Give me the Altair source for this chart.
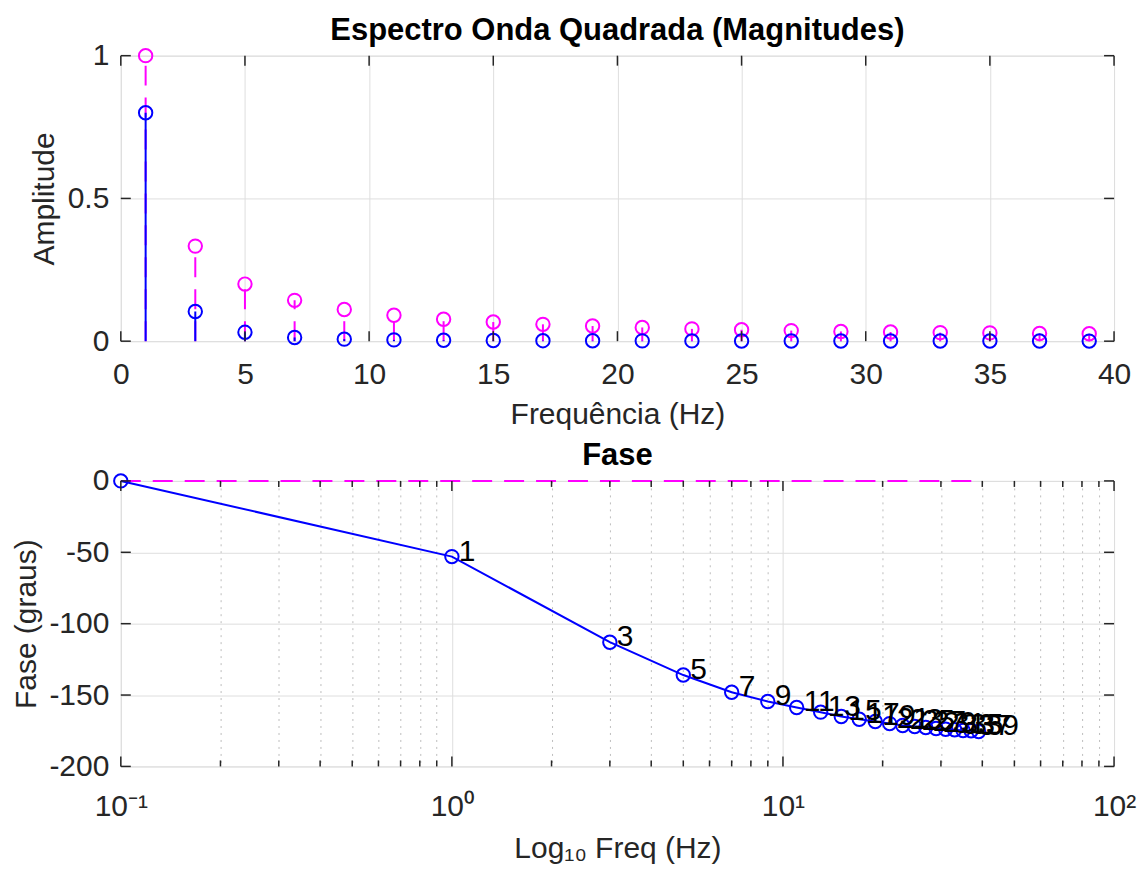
import altair as alt
import pandas as pd

# ---------------- data ----------------
harmonics = [1, 3, 5, 7, 9, 11, 13, 15, 17, 19, 21, 23, 25, 27, 29, 31, 33, 35, 37, 39]
mag_input = [1.0, 0.333, 0.2, 0.143, 0.111, 0.091, 0.077, 0.067, 0.059, 0.053,
             0.048, 0.043, 0.04, 0.037, 0.034, 0.032, 0.03, 0.029, 0.027, 0.026]
mag_output = [0.8, 0.104, 0.031, 0.013, 0.007, 0.0045, 0.003, 0.0022, 0.0017, 0.0013,
              0.0011, 0.0009, 0.0008, 0.0007, 0.0006, 0.0005, 0.0005, 0.0004, 0.0004, 0.0003]
mag_base = [0.0] * len(harmonics)

phase_freq = [0.1, 1, 3, 5, 7, 9, 11, 13, 15, 17, 19, 21, 23, 25, 27, 29, 31, 33, 35, 37, 39]
phase_output = [0, -53, -113, -136, -148, -154.5, -158.7, -162, -165, -167, -168.5,
                -170, -171.3, -172, -172.7, -173.4, -174, -174.3, -174.8, -175, -175.5]
phase_input = [0, 0, 0, 0, 0, 0, 0, 0, 0, 0, 0, 0, 0, 0, 0, 0, 0, 0, 0, 0, 0]
phase_labels = [""] + [str(n) for n in harmonics]

top_x_ticks = [0, 5, 10, 15, 20, 25, 30, 35, 40]
top_y_ticks = [0, 0.5, 1]
log_decades = [0.1, 1, 10, 100]
log_minor = [0.2, 0.3, 0.4, 0.5, 0.6, 0.7, 0.8, 0.9,
             2, 3, 4, 5, 6, 7, 8, 9,
             20, 30, 40, 50, 60, 70, 80, 90]
bot_y_ticks = [-200, -150, -100, -50, 0]

# ---------------- style ----------------
W, H = 995, 286
FONT = "Liberation Sans"
BLUE = "#0000ff"
MAG = "#ff00ff"
FRAME = "#262626"
GRID = "#dedede"
MINOR = "#bdbdbd"
LBL = 30
TTL = 30
MS = 180
TICK = 10

mag_df = pd.DataFrame({"f": harmonics, "inp": mag_input, "out": mag_output, "base": mag_base})
ph_df = pd.DataFrame({"f": phase_freq, "out": phase_output, "inp": phase_input, "lab": phase_labels})
lab_df = ph_df[ph_df["lab"] != ""]

common_axis = dict(domain=False, ticks=False, grid=True, gridWidth=1,
                   labelFont=FONT, labelFontSize=LBL, labelColor=FRAME,
                   titleFont=FONT, titleFontSize=TTL, titleFontWeight="normal",
                   titleColor=FRAME, labelFlush=False, labelOverlap=False)

# ---------- top panel ----------
xs_top = alt.Scale(domain=[0, 40], nice=False, zero=False)
ax_top = alt.Axis(values=top_x_ticks, gridColor=GRID, labelPadding=18, titlePadding=10, **common_axis)
ys_top = alt.Scale(domain=[0, 1], nice=False)
ay_top = alt.Axis(values=top_y_ticks, labelExpr="toString(datum.value)", gridColor=GRID,
                  labelPadding=12, titlePadding=8, **common_axis)


def xt(field):
    return alt.X(f"{field}:Q", scale=xs_top, axis=ax_top, title="Frequência (Hz)")


def yt(field):
    return alt.Y(f"{field}:Q", scale=ys_top, axis=ay_top, title="Amplitude")


base_top = alt.Chart(mag_df)
stem_in = base_top.mark_rule(color=MAG, strokeWidth=2, strokeDash=[20, 12]).encode(
    x=xt("f"), y=yt("base"), y2=alt.Y2("inp"))
stem_out = base_top.mark_rule(color=BLUE, strokeWidth=2).encode(
    x=xt("f"), y=yt("base"), y2=alt.Y2("out"))
pt_in = base_top.mark_point(shape="circle", filled=False, size=MS, strokeWidth=2, color=MAG, opacity=1).encode(
    x=xt("f"), y=yt("inp"))
pt_out = base_top.mark_point(shape="circle", filled=False, size=MS, strokeWidth=2, color=BLUE, opacity=1).encode(
    x=xt("f"), y=yt("out"))

txd = alt.Chart(pd.DataFrame({"t": top_x_ticks}))
tyd = alt.Chart(pd.DataFrame({"t": top_y_ticks}))
tk = dict(color=FRAME, strokeWidth=1.5)
top_ticks = [
    txd.mark_rule(**tk).encode(x=xt("t"), y=alt.value(0), y2=alt.value(TICK)),
    txd.mark_rule(**tk).encode(x=xt("t"), y=alt.value(H), y2=alt.value(H - TICK)),
    tyd.mark_rule(**tk).encode(y=yt("t"), x=alt.value(0), x2=alt.value(TICK)),
    tyd.mark_rule(**tk).encode(y=yt("t"), x=alt.value(W), x2=alt.value(W - TICK)),
]

top = alt.layer(stem_in, stem_out, pt_in, pt_out, *top_ticks).properties(
    width=W, height=H,
    title=alt.TitleParams("Espectro Onda Quadrada (Magnitudes)", font=FONT, fontSize=31,
                          fontWeight="bold", color="black", offset=-6, anchor="middle", frame="group"))

# ---------- bottom panel ----------
xs_bot = alt.Scale(type="log", domain=[0.1, 100], nice=False)
label_expr = ("datum.value == 0.1 ? '10\u207b\u00b9' : datum.value == 1 ? '10\u2070' : "
              "datum.value == 10 ? '10\u00b9' : datum.value == 100 ? '10\u00b2' : ''")
major_test = "indexof([0.1, 1, 10, 100], datum.value) < 0"
ax_bot = alt.Axis(values=sorted(log_decades + log_minor), labelExpr=label_expr,
                  gridDash={"condition": {"test": major_test, "value": [2, 5]}, "value": []},
                  gridColor={"condition": {"test": major_test, "value": MINOR}, "value": GRID},
                  labelPadding=25, titlePadding=12, **common_axis)
ys_bot = alt.Scale(domain=[-200, 0], nice=False)
ay_bot = alt.Axis(values=bot_y_ticks, labelExpr="toString(datum.value)", gridColor=GRID,
                  labelPadding=12, titlePadding=7, **common_axis)


def xb(field):
    return alt.X(f"{field}:Q", scale=xs_bot, axis=ax_bot, title="Log\u2081\u2080 Freq (Hz)")


def yb(field):
    return alt.Y(f"{field}:Q", scale=ys_bot, axis=ay_bot, title="Fase (graus)")


base_bot = alt.Chart(ph_df)
line_in = base_bot.mark_line(color=MAG, strokeWidth=2, strokeDash=[20, 12]).encode(x=xb("f"), y=yb("inp"))
line_out = base_bot.mark_line(color=BLUE, strokeWidth=2).encode(x=xb("f"), y=yb("out"))
pts_out = base_bot.mark_point(shape="circle", filled=False, size=MS, strokeWidth=2, color=BLUE, opacity=1).encode(
    x=xb("f"), y=yb("out"))
labels = alt.Chart(lab_df).mark_text(align="left", baseline="middle", dx=7, dy=-5,
                                     font=FONT, fontSize=30, color="black").encode(
    x=xb("f"), y=yb("out"), text="lab:N")

bmaj = alt.Chart(pd.DataFrame({"t": log_decades}))
bmin = alt.Chart(pd.DataFrame({"t": log_minor}))
byd = alt.Chart(pd.DataFrame({"t": bot_y_ticks}))
bot_ticks = [
    bmaj.mark_rule(**tk).encode(x=xb("t"), y=alt.value(0), y2=alt.value(TICK)),
    bmaj.mark_rule(**tk).encode(x=xb("t"), y=alt.value(H), y2=alt.value(H - TICK)),
    bmin.mark_rule(**tk).encode(x=xb("t"), y=alt.value(0), y2=alt.value(6)),
    bmin.mark_rule(**tk).encode(x=xb("t"), y=alt.value(H), y2=alt.value(H - 6)),
    byd.mark_rule(**tk).encode(y=yb("t"), x=alt.value(0), x2=alt.value(TICK)),
    byd.mark_rule(**tk).encode(y=yb("t"), x=alt.value(W), x2=alt.value(W - TICK)),
]

bot = alt.layer(line_in, line_out, pts_out, labels, *bot_ticks).properties(
    width=W, height=H,
    title=alt.TitleParams("Fase", font=FONT, fontSize=31, fontWeight="bold", color="black",
                          offset=-6, anchor="middle", frame="group"))

chart = alt.vconcat(top, bot, spacing=9).properties(
    padding={"left": 3, "top": 5, "right": 0, "bottom": 0}
).configure_view(stroke=FRAME, strokeWidth=2).configure(font=FONT)

chart.save("out.html", embed_options={"renderer": "svg", "actions": False})
